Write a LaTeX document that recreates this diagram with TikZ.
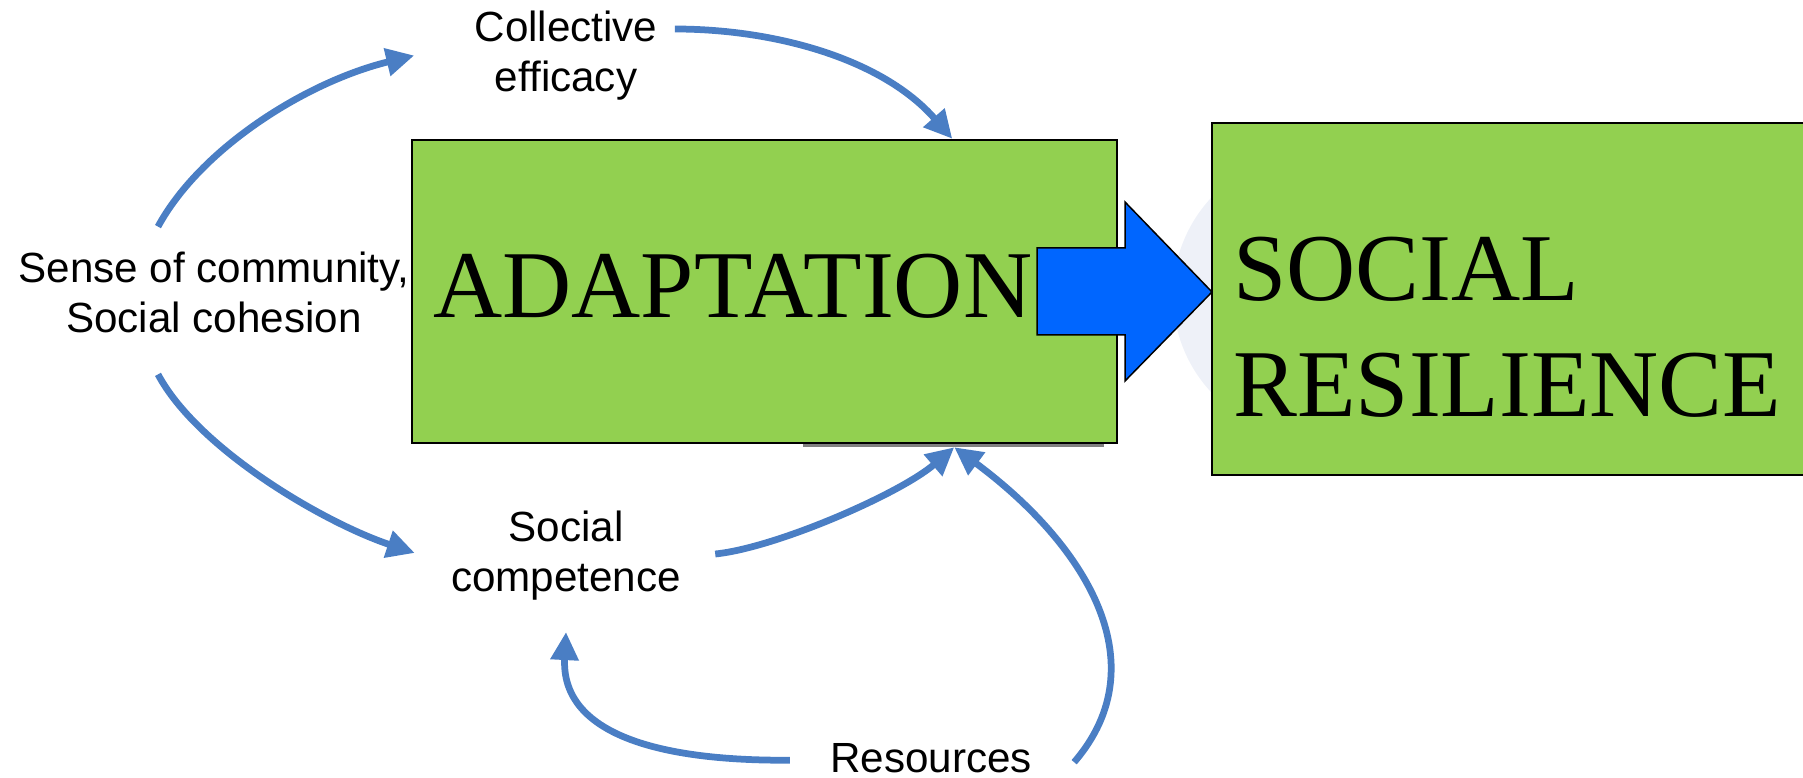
\documentclass[tikz,border=0pt]{standalone}
\usepackage{fontspec}
\setmainfont{Liberation Sans}
\newfontfamily\serifword{Liberation Serif}
\usetikzlibrary{arrows.meta}
\definecolor{boxgreen}{HTML}{92D050}
\definecolor{flowblue}{HTML}{4A7EC4}
\definecolor{arrowblue}{HTML}{0066FF}
\definecolor{haze}{HTML}{EEF1F8}
\tikzset{>={Triangle[length=5.6mm,width=5.4mm]}}
\tikzset{greenbox/.style={draw=black, line width=0.5mm, fill=boxgreen, inner sep=0},
  factor/.style={font=\fontsize{24}{28.5}\selectfont, align=center, inner sep=0},
  bigword/.style={font=\serifword\fontsize{54.5}{65.7}\selectfont, align=left, inner sep=0},
  flow/.style={->, draw=flowblue, line width=1.35mm}}

\begin{document}
\begin{tikzpicture}[x=0.2mm, y=-0.2mm]
\clip (0,0) rectangle (1803,778);
\fill[haze] (1316,295) circle (28.6mm);
\node (resbox) [greenbox, minimum width=130mm, minimum height=70.4mm] at (1537,299) {};
\node (adapt) [greenbox, minimum width=141mm, minimum height=60.6mm] at (764.5,291.5) {};
\draw[gray, line width=0.6mm] (803,446) -- (1104,446);
\draw[fill=arrowblue, line width=0.3mm] (1037,248) -- (1125,248) -- (1125,202) -- (1212,292)
  -- (1125,381) -- (1125,335) -- (1037,335) -- cycle;
\node[bigword, anchor=base west] (adapttext) at (433,318) {ADAPTATION};
\node[bigword, anchor=north west] (restext) at (1233,237) {SOCIAL\\RESILIENCE};
\node[factor] (collective) at (566,55.5) {Collective\\efficacy};
\node[factor] (sense) at (214,292.5) {Sense of community,\\Social cohesion};
\node[factor] (competence) at (566,556) {Social\\competence};
\node[factor, anchor=base] (resources) at (931,772) {Resources};
\draw[flow] ([xshift=-11.2mm,yshift=5mm]sense.north) .. controls +(43,-79) and +(-107,26) .. ([xshift=-12mm]collective.west);
\draw[flow] ([xshift=3.4mm,yshift=5.3mm]collective.east) .. controls +(100,0) and +(-70,-80) .. ([xshift=-33.2mm]adapt.north east);
\draw[flow] ([xshift=-11.2mm,yshift=-8.2mm]sense.south) .. controls +(40,75) and +(-90,-30) .. ([xshift=-7.2mm,yshift=0.6mm]competence.west);
\draw[flow] ([xshift=6.8mm,yshift=0.4mm]competence.east) .. controls +(60,-6) and +(-55,47) .. ([xshift=-32.8mm,yshift=-0.6mm]adapt.south east);
\draw[flow] ([xshift=8.4mm,yshift=-0.9mm]resources.east) .. controls +(87,-101) and +(127,94) .. ([xshift=-32.8mm,yshift=-0.6mm]adapt.south east);
\draw[flow] ([xshift=-8mm,yshift=-0.5mm]resources.west) .. controls +(-141,1) and +(-5,98) .. ([yshift=-6.2mm]competence.south);
\end{tikzpicture}
\end{document}
